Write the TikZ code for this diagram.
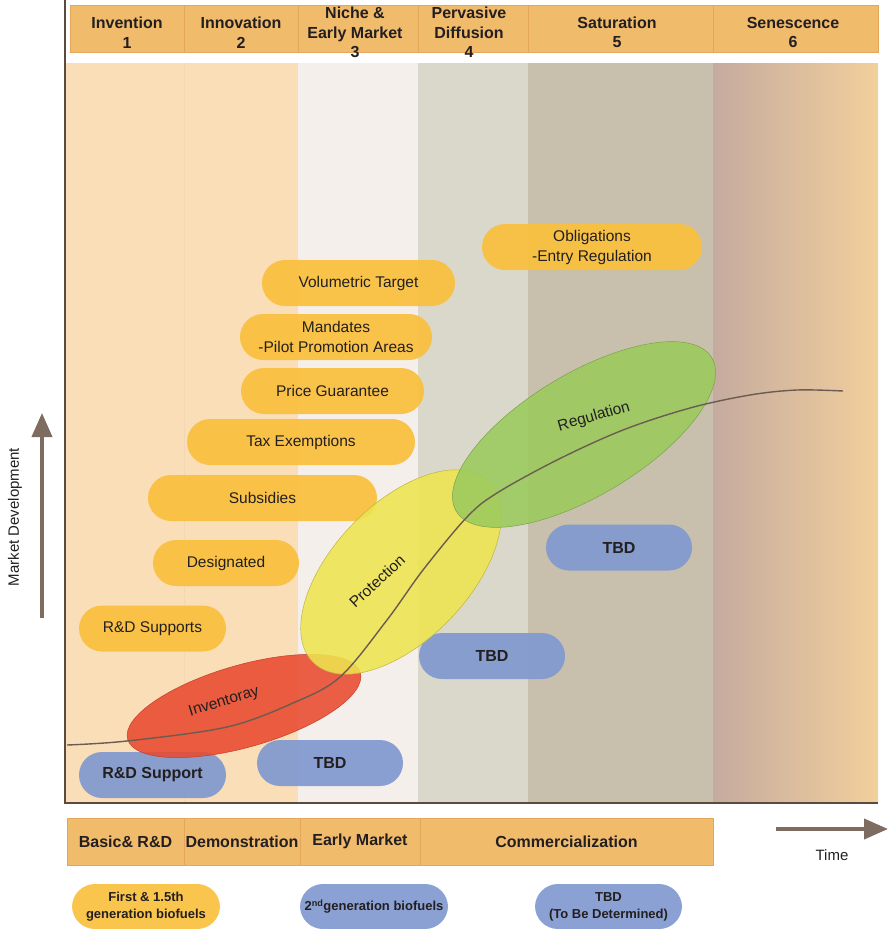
\documentclass[tikz,border=0pt]{standalone}
\usepackage{fontspec}
\setmainfont{Liberation Sans}
\usetikzlibrary{arrows.meta}
\definecolor{headOrange}{HTML}{F1BB6C}
\definecolor{headEdge}{HTML}{E3A65A}
\definecolor{peachBg}{HTML}{F9DEB8}
\definecolor{pinkBg}{HTML}{F5EFEC}
\definecolor{grayBg}{HTML}{DAD8CB}
\definecolor{taupeBg}{HTML}{C8C0AC}
\definecolor{senLeft}{HTML}{C5AB9F}
\definecolor{senRight}{HTML}{F2CF9C}
\definecolor{pillYellow}{HTML}{FAC03D}
\definecolor{pillBlue}{HTML}{8199CF}
\definecolor{invRed}{HTML}{E84A2F}
\definecolor{protYellow}{HTML}{EEE44F}
\definecolor{regGreen}{HTML}{9BCB5D}
\definecolor{axisDark}{HTML}{5B4A3F}
\definecolor{arrowTaupe}{HTML}{7F6C61}
\definecolor{textDark}{HTML}{231F20}
\newcommand{\pxfont}[2]{\fontsize{#1}{#2}\selectfont}

\begin{document}
\begin{tikzpicture}[
        x=1pt, y=-1pt,
        hcell/.style={rectangle, draw=headEdge, fill=headOrange, minimum height=47pt, inner sep=0pt, font=\bfseries\pxfont{16}{19.5}, text=textDark},
        htext/.style={align=center, font=\bfseries\pxfont{16}{19.5}, text=textDark},
        ypill/.style={rectangle, rounded corners=23pt, fill=pillYellow, fill opacity=0.92, text opacity=1, minimum height=46pt, inner sep=0pt, align=center, font=\pxfont{15.5}{20}, text=textDark},
        bpill/.style={ypill, fill=pillBlue, font=\bfseries\pxfont{16}{20}},
        legpill/.style={ypill, minimum height=45pt, font=\bfseries\pxfont{13}{17}},
        blob/.style={line width=0.5pt, fill opacity=0.88},
        blobtext/.style={font=\pxfont{15.5}{18}, text=textDark},
        bigarrow/.style={draw=arrowTaupe, line width=4pt, -{Triangle[length=24pt, width=20pt]}}
      ]
        \useasboundingbox (0,0) rectangle (888,929);
        % stage backgrounds
        \fill[peachBg] (65,63) rectangle (298,802);
        \draw[headEdge!45, line width=0.6pt] (184,63) -- (184,802);
        \fill[pinkBg] (298,63) rectangle (418,802);
        \fill[grayBg] (418,63) rectangle (528,802);
        \fill[taupeBg] (528,63) rectangle (713,802);
        \shade[left color=senLeft, right color=senRight] (713,63) rectangle (878,802);
        \draw[axisDark, line width=2.5pt] (65,0) -- (65,803) -- (878,803);

        % stage header
        \filldraw[fill=headOrange, draw=headEdge] (70,5) rectangle (878,52);
        \draw[headEdge] (184,5) -- (184,52) (298,5) -- (298,52) (418,5) -- (418,52)
          (528,5) -- (528,52) (713,5) -- (713,52);
        \node[htext] (tInv) at (127,32.5) {Invention\\1};
        \node[htext] (tInn) at (241,32.5) {Innovation\\2};
        \node[htext] (tNiche) at (355,32.5) {Niche \&\\Early Market\\3};
        \node[htext] (tPerv) at (469,32.5) {Pervasive\\Diffusion\\4};
        \node[htext] (tSat) at (617,32.5) {Saturation\\5};
        \node[htext] (tSen) at (793,32.5) {Senescence\\6};

        % policy pills
        \node[ypill, minimum width=220pt] (oblig) at (592,247) {Obligations\\-Entry Regulation};
        \node[ypill, minimum width=193pt] (volTarget) at (358.5,283) {Volumetric Target};
        \node[ypill, minimum width=192pt] (mandates) at (336,337) {Mandates\\-Pilot Promotion Areas};
        \node[ypill, minimum width=183pt] (priceGuar) at (332.5,391) {Price Guarantee};
        \node[ypill, minimum width=228pt] (taxEx) at (301,442) {Tax Exemptions};
        \node[ypill, minimum width=229pt] (subsidies) at (262.5,498) {Subsidies};
        \node[ypill, minimum width=146pt] (designated) at (226,563) {Designated};
        \node[ypill, minimum width=147pt] (rdSupports) at (152.5,628.5) {R\&D Supports};
        \node[bpill, minimum width=146pt] (tbdSat) at (619,547.5) {TBD};
        \node[bpill, minimum width=146pt] (tbdPerv) at (492,656) {TBD};
        \node[bpill, minimum width=146pt] (tbdNiche) at (330,763) {TBD};
        \node[bpill, minimum width=147pt] (rdSupport) at (152.5,775) {R\&D Support};

        % instrument ellipses
        \filldraw[blob, fill=invRed, draw=invRed!85!black, shift={(244,706)}, rotate=16] (0,0) ellipse [x radius=121, y radius=41];
        \filldraw[blob, fill=protYellow, draw=protYellow!80!black, shift={(401,572)}, rotate=46] (0,0) ellipse [x radius=126, y radius=68];
        \filldraw[blob, fill=regGreen, draw=regGreen!80!black, shift={(584,434.5)}, rotate=31] (0,0) ellipse [x radius=149, y radius=61];
        \node[blobtext, rotate=17] (inventLbl) at (224,702) {Inventoray};
        \node[blobtext, rotate=43] (protectLbl) at (377,581) {Protection};
        \node[blobtext, rotate=16] (regulLbl) at (594,417) {Regulation};

        % diffusion curve
        \draw[axisDark!90, line width=1.4pt] plot[smooth, tension=0.55] coordinates {(67,745) (127,741) (227,727) (293,703) (340,677) (387,620) (423,570) (467,517) (497,493) (557,460) (623,430) (690,408) (750,395) (797,390) (843,391)};

        % axes labels
        \coordinate (mdBase) at (42,618);
        \coordinate (mdTip) at (42,413);
        \draw[bigarrow] (mdBase) -- (mdTip);
        \node[rotate=90, font=\pxfont{15}{17}, text=textDark] (mdLabel) at (15,517) {Market Development};
        \coordinate (timeBase) at (776,829);
        \coordinate (timeTip) at (888,829);
        \draw[bigarrow] (timeBase) -- (timeTip);
        \node[font=\pxfont{15}{17}, text=textDark] (timeLabel) at (832,855) {Time};

        % development phases
        \node[hcell, minimum width=117pt] (pBasic) at (125.5,841.5) {Basic\& R\&D};
        \node[hcell, minimum width=116pt] (pDemo) at (242,841.5) {Demonstration};
        \node[hcell, minimum width=120pt] (pEarly) at (360,841.5) {Early Market};
        \node[hcell, minimum width=293pt] (pComm) at (566.5,841.5) {Commercialization};

        % legend
        \node[legpill, minimum width=148pt] (legFirst) at (146,906.5) {First \& 1.5th\\generation biofuels};
        \node[legpill, fill=pillBlue, minimum width=148pt] (legSecond) at (374,906.5) {2\textsuperscript{nd}generation biofuels};
        \node[legpill, fill=pillBlue, minimum width=147pt] (legTbd) at (608.5,906.5) {TBD\\(To Be Determined)};
      \end{tikzpicture}
\end{document}
